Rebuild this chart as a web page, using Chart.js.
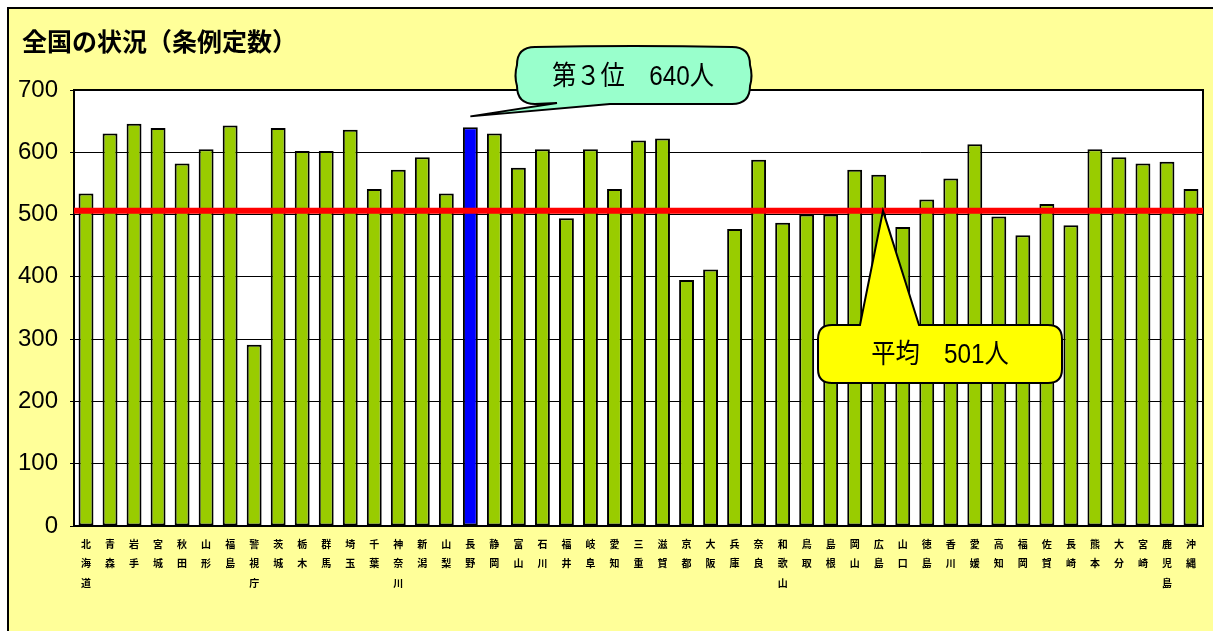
<!DOCTYPE html>
<html><head><meta charset="utf-8">
<script src="https://cdn.jsdelivr.net/npm/chart.js@4.4.1/dist/chart.umd.min.js"></script>
<style>html,body{margin:0;padding:0;background:#fff;}#wrap{width:1213px;height:631px;position:relative;}</style>
</head><body><div id="wrap"><canvas id="c" width="1213" height="631"></canvas></div>
<script>
const titleText = '全国の状況（条例定数）';
const prefectures = ['北海道','青森','岩手','宮城','秋田','山形','福島','警視庁','茨城','栃木','群馬','埼玉','千葉','神奈川','新潟','山梨','長野','静岡','富山','石川','福井','岐阜','愛知','三重','滋賀','京都','大阪','兵庫','奈良','和歌山','鳥取','島根','岡山','広島','山口','徳島','香川','愛媛','高知','福岡','佐賀','長崎','熊本','大分','宮崎','鹿児島','沖縄'];
const ordinanceCounts = [534,630,646,639,582,605,643,291,639,602,602,636,541,572,592,534,640,630,575,605,494,605,541,619,622,395,412,477,588,487,500,500,572,564,480,524,558,613,497,467,517,483,605,592,582,585,541];
const yTicks = [0,100,200,300,400,500,600,700];
const averageLine = [506];
const highlightName = '長野';
const rankCallout = '第３位　640人';
const avgCallout = '平均　501人';

const GREEN = '#99CC00', BLUE = '#0000FF';
const labels = prefectures.map(n => n.split(''));
const hi = prefectures.indexOf(highlightName);
const colors = prefectures.map((n,i) => i === hi ? BLUE : GREEN);
const NUMFONT = "'Liberation Sans','Noto Sans CJK JP',sans-serif";

function condensedText(ctx, text, cx, cy, sx) {
  ctx.save();
  ctx.translate(cx, cy);
  ctx.scale(sx, 1);
  ctx.fillText(text, 0, 0);
  ctx.restore();
}

const deco = {
  id: 'deco',
  beforeDraw(chart) {
    const ctx = chart.ctx, a = chart.chartArea;
    ctx.save();
    ctx.fillStyle = '#fff';
    ctx.fillRect(0,0,chart.width,chart.height);
    ctx.fillStyle = '#FFFF99';
    ctx.fillRect(8,8,chart.width+10,chart.height+10);
    ctx.strokeStyle = '#000'; ctx.lineWidth = 2;
    ctx.strokeRect(8,8,chart.width+10,chart.height+10);
    ctx.fillStyle = '#fff';
    ctx.fillRect(a.left,a.top,a.right-a.left,a.bottom-a.top);
    ctx.fillStyle = '#000';
    ctx.font = "bold 25px 'Noto Sans CJK JP'";
    ctx.textBaseline = 'middle'; ctx.textAlign = 'left';
    ctx.fillText(titleText, 22, 41);
    ctx.restore();
  },
  afterDatasetsDraw(chart) {
    const ctx = chart.ctx, a = chart.chartArea, xs = chart.scales.x, ys = chart.scales.y;
    ctx.save();
    ctx.strokeStyle = '#000'; ctx.lineWidth = 2;
    ctx.strokeRect(a.left, a.top, a.right-a.left, a.bottom-a.top);
    const ay = ys.getPixelForValue(averageLine[0]);
    ctx.strokeStyle = '#FF0000'; ctx.lineWidth = 6;
    ctx.beginPath(); ctx.moveTo(a.left, ay); ctx.lineTo(a.right, ay); ctx.stroke();

    const tipX = xs.getPixelForValue(hi), tipY = ys.getPixelForValue(ordinanceCounts[hi]) - 11;
    let L=517,T=47,R=750,B=104,r=18;
    ctx.beginPath();
    ctx.moveTo(L+r,T);
    ctx.quadraticCurveTo((L+R)/2, T-2, R-r, T);
    ctx.quadraticCurveTo(R, T, R, T+r);
    ctx.quadraticCurveTo(R+3, (T+B)/2, R, B-r);
    ctx.quadraticCurveTo(R, B, R-r, B);
    ctx.lineTo(610, B);
    ctx.lineTo(tipX, tipY);
    ctx.lineTo(557, B-1);
    ctx.lineTo(L+r, B);
    ctx.quadraticCurveTo(L, B, L, B-r);
    ctx.quadraticCurveTo(L-3, (T+B)/2, L, T+r);
    ctx.quadraticCurveTo(L, T, L+r, T);
    ctx.closePath();
    ctx.fillStyle = '#99FFCC'; ctx.fill();
    ctx.strokeStyle = '#000'; ctx.lineWidth = 2; ctx.stroke();
    ctx.fillStyle = '#000';
    ctx.font = "27px " + NUMFONT;
    ctx.textAlign = 'center'; ctx.textBaseline = 'middle';
    condensedText(ctx, rankCallout, 633, 78, 0.9);

    L=818;T=325;R=1062;B=383;r=14;
    const tx = 883;
    ctx.beginPath();
    ctx.moveTo(L+r,T);
    ctx.lineTo(860,T);
    ctx.lineTo(tx, ay);
    ctx.lineTo(919,T);
    ctx.lineTo(R-r,T);
    ctx.quadraticCurveTo(R,T,R,T+r);
    ctx.lineTo(R,B-r);
    ctx.quadraticCurveTo(R,B,R-r,B);
    ctx.lineTo(L+r,B);
    ctx.quadraticCurveTo(L,B,L,B-r);
    ctx.lineTo(L,T+r);
    ctx.quadraticCurveTo(L,T,L+r,T);
    ctx.closePath();
    ctx.fillStyle = '#FFFF00'; ctx.fill();
    ctx.strokeStyle = '#000'; ctx.lineWidth = 2; ctx.stroke();
    ctx.fillStyle = '#000';
    condensedText(ctx, avgCallout, 940, 356, 0.9);
    ctx.restore();
  }
};

new Chart(document.getElementById('c'), {
  type: 'bar',
  data: {
    labels: labels,
    datasets: [{
      data: ordinanceCounts,
      backgroundColor: colors,
      borderColor: '#000',
      borderWidth: 2,
      borderSkipped: false,
      barPercentage: 0.62,
      categoryPercentage: 1.0
    }]
  },
  options: {
    responsive: false,
    animation: false,
    devicePixelRatio: 1,
    layout: { padding: { top: 90, left: 0, right: 10, bottom: 0 } },
    plugins: { legend: { display: false }, tooltip: { enabled: false }, title: { display: false } },
    scales: {
      x: {
        grid: { display: false },
        border: { display: false },
        ticks: {
          autoSkip: false, maxRotation: 0, minRotation: 0, padding: 0,
          color: '#000',
          font: { family: "'Noto Sans CJK JP'", size: 10, weight: 'bold', lineHeight: 1.95 }
        },
        afterFit(s) { s.height = 105; }
      },
      y: {
        min: 0, max: 700,
        afterBuildTicks(s) { s.ticks = yTicks.map(v => ({ value: v })); },
        grid: { color: '#000', lineWidth: 1, tickLength: 4, drawTicks: true },
        border: { display: false },
        ticks: {
          padding: 12, color: '#000',
          font: { family: NUMFONT, size: 24 }
        },
        afterFit(s) { s.width = 74; }
      }
    }
  },
  plugins: [deco]
});
</script>
</body></html>
